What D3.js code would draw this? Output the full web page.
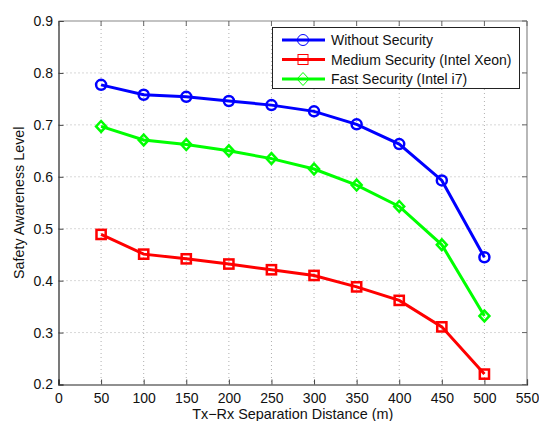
<!DOCTYPE html>
<html><head><meta charset="utf-8">
<script src="https://cdn.jsdelivr.net/npm/d3@7"></script>
<style>body{margin:0;background:#fff}svg{display:block}text{font-family:"Liberation Sans",Arial,sans-serif}</style>
</head><body><svg id="c" width="539" height="421"></svg>
<script>
const distances = [50,100,150,200,250,300,350,400,450,500];
const withoutSecurity = [0.777,0.758,0.754,0.746,0.738,0.726,0.701,0.663,0.593,0.445];
const mediumSecurity = [0.489,0.451,0.442,0.432,0.421,0.410,0.388,0.362,0.311,0.220];
const fastSecurity = [0.697,0.671,0.662,0.650,0.635,0.615,0.584,0.543,0.469,0.332];
const seriesNames = ["Without Security","Medium Security (Intel Xeon)","Fast Security (Intel i7)"];
const seriesColors = ["#0000ff","#ff0000","#00ff00"];
const seriesMarkers = ["circle","square","diamond"];
const xTicks = [0,50,100,150,200,250,300,350,400,450,500,550];
const yTicks = [0.2,0.3,0.4,0.5,0.6,0.7,0.8,0.9];

const svg = d3.select("#c");
const L=58.5,R=527,T=21,B=384.5;
const x = d3.scaleLinear().domain([0,550]).range([L,R]);
const y = d3.scaleLinear().domain([0.2,0.9]).range([B,T]);

// grid
const g = svg.append("g");
g.selectAll(".gx").data(xTicks.slice(1,-1)).join("line")
 .attr("x1",d=>x(d)).attr("x2",d=>x(d)).attr("y1",T).attr("y2",B)
 .attr("stroke","#b0b0b0").attr("stroke-width",1).attr("stroke-dasharray","1,3");
g.selectAll(".gy").data(yTicks.slice(1,-1)).join("line")
 .attr("y1",d=>y(d)).attr("y2",d=>y(d)).attr("x1",L).attr("x2",R)
 .attr("stroke","#b0b0b0").attr("stroke-width",1).attr("stroke-dasharray","1,3");

// frame top/right grey
svg.append("line").attr("x1",L).attr("x2",R).attr("y1",T).attr("y2",T).attr("stroke","#888").attr("stroke-width",1.2);
svg.append("line").attr("x1",R).attr("x2",R).attr("y1",T).attr("y2",B).attr("stroke","#888").attr("stroke-width",1.2);

// axes
const xa = svg.append("g").attr("transform",`translate(0,${B})`)
 .call(d3.axisBottom(x).tickValues(xTicks).tickSize(-5).tickPadding(9).tickFormat(d3.format("d")));
const ya = svg.append("g").attr("transform",`translate(${L},0)`)
 .call(d3.axisLeft(y).tickValues(yTicks).tickSize(-5).tickPadding(5.5).tickFormat(d3.format(".1f")));
[xa,ya].forEach(a=>{a.select(".domain").attr("stroke","#222").attr("stroke-width",1.2);
 a.selectAll(".tick line").attr("stroke","#444");
 a.selectAll("text").attr("font-size",14).attr("fill","#111").attr("font-family","Liberation Sans, Arial, sans-serif");});
// top/right ticks
svg.append("g").selectAll("line").data(xTicks).join("line")
 .attr("x1",d=>x(d)).attr("x2",d=>x(d)).attr("y1",T).attr("y2",T+5).attr("stroke","#666");
svg.append("g").selectAll("line").data(yTicks).join("line")
 .attr("y1",d=>y(d)).attr("y2",d=>y(d)).attr("x1",R).attr("x2",R-5).attr("stroke","#666");

// labels
svg.append("text").attr("x",(L+R)/2).attr("y",419).attr("text-anchor","middle").attr("font-size",14.4).attr("fill","#111").text("Tx\u2212Rx Separation Distance (m)");
svg.append("text").attr("transform",`translate(23.5,${(T+B)/2}) rotate(-90)`).attr("text-anchor","middle").attr("font-size",14.3).attr("fill","#111").text("Safety Awareness Level");

function marker(sel,type,color){
  if(type==="circle") sel.append("circle").attr("r",5).attr("fill","none").attr("stroke",color).attr("stroke-width",2.5);
  else if(type==="square") sel.append("rect").attr("x",-4.6).attr("y",-4.6).attr("width",9.2).attr("height",9.2).attr("fill","none").attr("stroke",color).attr("stroke-width",2.5);
  else sel.append("path").attr("d","M0,-5.4L5,0L0,5.4L-5,0Z").attr("fill","none").attr("stroke",color).attr("stroke-width",2.5);
}

const allSeries=[withoutSecurity,mediumSecurity,fastSecurity];
const line = d3.line().x((d,i)=>x(distances[i])).y(d=>y(d));
allSeries.forEach((vals,k)=>{
  svg.append("path").datum(vals).attr("d",line).attr("fill","none").attr("stroke",seriesColors[k]).attr("stroke-width",3);
  vals.forEach((v,i)=>{
    const m=svg.append("g").attr("transform",`translate(${x(distances[i])},${y(v)})`);
    marker(m,seriesMarkers[k],seriesColors[k]);
  });
});

// legend
const lg=svg.append("g");
lg.append("rect").attr("x",272.5).attr("y",27.5).attr("width",247).attr("height",61).attr("fill","#fff").attr("stroke","#222").attr("stroke-width",1);
seriesNames.forEach((n,k)=>{
  const yy=40+k*19.5;
  lg.append("line").attr("x1",282).attr("x2",325).attr("y1",yy).attr("y2",yy).attr("stroke",seriesColors[k]).attr("stroke-width",3);
  const m=lg.append("g").attr("transform",`translate(303,${yy})`);
  if(seriesMarkers[k]==="circle") m.append("circle").attr("r",5.5).attr("fill","none").attr("stroke",seriesColors[k]).attr("stroke-width",1);
  else if(seriesMarkers[k]==="square") m.append("rect").attr("x",-5).attr("y",-5).attr("width",10).attr("height",10).attr("fill","none").attr("stroke",seriesColors[k]).attr("stroke-width",1);
  else m.append("path").attr("d","M0,-6.5L6,0L0,6.5L-6,0Z").attr("fill","none").attr("stroke",seriesColors[k]).attr("stroke-width",1);
  lg.append("text").attr("x",331).attr("y",yy+5).attr("font-size",14).attr("fill","#111").text(n);
});
</script></body></html>
